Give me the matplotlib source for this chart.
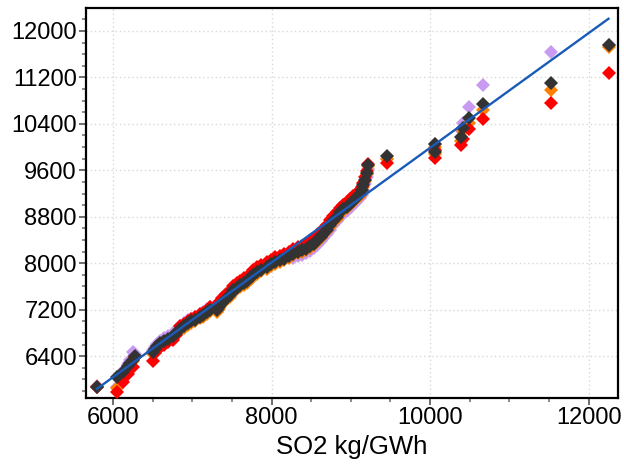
import matplotlib
matplotlib.use("Agg")
import matplotlib.pyplot as plt
from matplotlib.ticker import MultipleLocator

plt.rcParams['font.family'] = ['Liberation Sans', 'DejaVu Sans']

x_vals = [5800, 6045, 6130, 6190, 6215, 6250, 6280,
          6500, 6530, 6560, 6595, 6640, 6700, 6760, 6800, 6845, 6900, 6950, 6990, 7040, 7100, 7140, 7180, 7220,
          7310, 7340, 7380, 7430, 7470, 7520, 7560, 7600, 7650, 7690, 7740, 7770, 7820, 7870, 7940, 7990,
          8050, 8110, 8160, 8220, 8275, 8330, 8380, 8440, 8490, 8530, 8570, 8620, 8655, 8700, 8740, 8780,
          8820, 8865, 8900, 8950, 8990, 9030, 9070, 9115, 9140, 9160, 9180, 9200, 9220,
          9460, 10060, 10065, 10390, 10415, 10490, 10670, 11530, 12255]

dark_y = [5875, 6050, 6135, 6230, 6285, 6340, 6395,
          6470, 6520, 6570, 6620, 6660, 6700, 6740, 6800, 6875, 6920, 6970, 7000, 7030, 7080, 7110, 7160, 7200,
          7195, 7250, 7320, 7390, 7450, 7535, 7580, 7620, 7660, 7690, 7760, 7800, 7850, 7890, 7935, 7980,
          8020, 8050, 8080, 8120, 8165, 8200, 8225, 8250, 8290, 8340, 8400, 8460, 8510, 8580, 8660, 8735,
          8800, 8880, 8930, 8975, 9025, 9080, 9130, 9195, 9260, 9340, 9440, 9560, 9700,
          9840, 10060, 9920, 10180, 10335, 10505, 10750, 11110, 11760]

orange_y = [5870, 5850, 6020, 6150, 6265, 6320, 6380,
            6440, 6490, 6540, 6590, 6630, 6670, 6710, 6770, 6845, 6890, 6940, 6970, 7000, 7050, 7080, 7130, 7170,
            7165, 7220, 7290, 7360, 7420, 7505, 7550, 7590, 7630, 7660, 7730, 7770, 7820, 7860, 7905, 7950,
            7990, 8020, 8050, 8090, 8135, 8170, 8195, 8220, 8260, 8310, 8370, 8430, 8480, 8550, 8630, 8705,
            8770, 8850, 8900, 8945, 8995, 9050, 9100, 9165, 9230, 9310, 9410, 9530, 9670,
            9790, 10010, 9880, 10110, 10270, 10410, 10645, 10990, 11715]

red_y = [5870, 5790, 5960, 6095, 6270, 6220, 6390,
         6320, 6460, 6510, 6560, 6600, 6640, 6680, 6760, 6915, 6960, 7010, 7040, 7070, 7120, 7150, 7200, 7240,
         7280, 7330, 7400, 7470, 7530, 7615, 7660, 7700, 7740, 7770, 7840, 7880, 7930, 7970, 8015, 8060,
         8100, 8130, 8160, 8200, 8245, 8280, 8305, 8330, 8370, 8420, 8480, 8540, 8590, 8660, 8740, 8815,
         8880, 8960, 9010, 9055, 9105, 9160, 9200, 9260, 9320, 9390, 9480, 9590, 9710,
         9720, 9950, 9820, 10040, 10145, 10315, 10490, 10760, 11275]

purple_y = [5880, 5865, 6150, 6260, 6330, 6470, 6430,
            6515, 6565, 6615, 6665, 6705, 6745, 6785, 6845, 6920, 6965, 7015, 7045, 7075, 7125, 7155, 7205, 7245,
            7185, 7240, 7310, 7380, 7440, 7525, 7570, 7610, 7650, 7680, 7750, 7790, 7840, 7880, 7925, 7970,
            8010, 8040, 8070, 8110, 8085, 8120, 8145, 8170, 8210, 8260, 8320, 8380, 8430, 8500, 8580, 8655,
            8720, 8800, 8850, 8895, 8945, 9000, 9050, 9115, 9180, 9260, 9360, 9480, 9620,
            9800, 10050, 9930, 10300, 10420, 10695, 11075, 11645, 11760]

line_x = [5800, 12250]
line_y = [5840, 12210]

x_ticks = [6000, 8000, 10000, 12000]
y_ticks = [6400, 7200, 8000, 8800, 9600, 10400, 11200, 12000]

fig = plt.figure(figsize=(6.24, 4.74), dpi=100)
ax = fig.add_axes([86/624, 1 - 398/474, (618 - 86)/624, (398 - 8)/474])

ax.grid(True, which='major', color='#d8d8d8', linestyle=(0, (1, 2)), linewidth=1.0, zorder=0)
ax.set_axisbelow(True)

ms = 7.5
series = [(purple_y, '#c89bf0'), (orange_y, '#ff8000'), (red_y, '#ff0000'), (dark_y, '#333333')]
for ys, col in series:
    ax.plot(x_vals, ys, linestyle='none', marker='D', markersize=ms, color=col,
            markeredgewidth=0, zorder=3)
ax.plot(line_x, line_y, color='#1a5bb8', linewidth=1.7, zorder=4)

ax.set_xlim(5660, 12370)
ax.set_ylim(5680, 12395)
ax.set_xticks(x_ticks)
ax.set_yticks(y_ticks)
ax.xaxis.set_minor_locator(MultipleLocator(500))
ax.yaxis.set_minor_locator(MultipleLocator(200))
ax.tick_params(axis='both', which='major', direction='out', length=5, width=1.2,
               color='#555555', labelsize=17, pad=1.5)
ax.tick_params(axis='both', which='minor', direction='out', length=3, width=1.2, color='#777777')
for sp in ax.spines.values():
    sp.set_linewidth(1.6)
    sp.set_color('black')

ax.set_xlabel('SO2 kg/GWh', fontsize=18.5, labelpad=4)

fig.savefig('out.png', dpi=100)
